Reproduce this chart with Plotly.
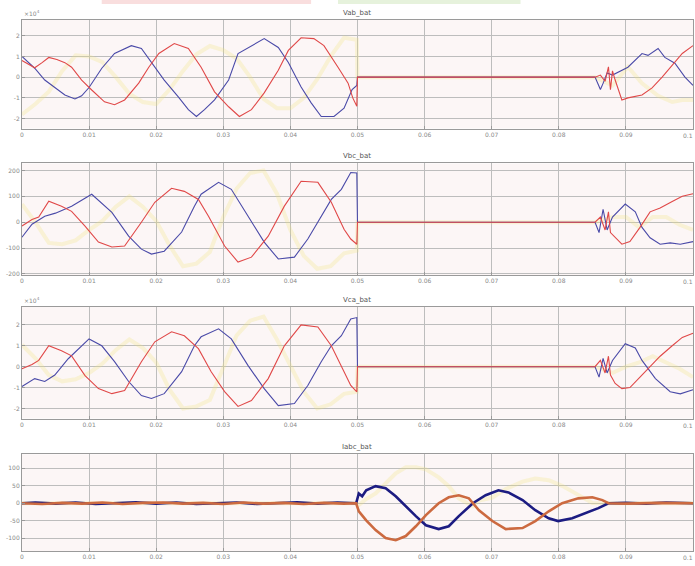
import plotly.graph_objects as go

W, H = 695, 566

# ---------------- data (time in ms) ----------------
x_ticks = [0, 0.01, 0.02, 0.03, 0.04, 0.05, 0.06, 0.07, 0.08, 0.09, 0.1]
x_tick_labels = ["0", "0.01", "0.02", "0.03", "0.04", "0.05", "0.06", "0.07", "0.08", "0.09", "0.1"]

titles = ["Vab_bat", "Vbc_bat", "Vca_bat", "Iabc_bat"]

# Panel 1 (x10^4)
p1_blue_t = [0, 1.9, 3.4, 4.9, 6.4, 7.9, 8.9, 10.0, 11.9, 13.8, 16.3, 17.8, 19.3, 21.2, 23.3, 24.8, 26.0, 27.2, 28.7, 30.8, 32.2, 33.7, 36.1, 38.2, 39.7, 41.6, 43.1, 44.6, 46.5, 48.0, 49.2, 49.9, 50.0,
             85.4, 86.2, 86.6, 87.2, 88.0, 88.9, 90.3, 92.4, 93.3, 94.8, 95.8, 97.3, 98.8, 100]
p1_blue_v = [1.0, 0.43, -0.14, -0.5, -0.86, -1.05, -0.9, -0.5, 0.43, 1.14, 1.52, 1.38, 0.71, -0.14, -0.95, -1.57, -1.9, -1.57, -1.1, -0.14, 1.14, 1.43, 1.86, 1.43, 0.71, -0.48, -1.24, -1.9, -1.9, -1.5, -0.6, -0.4, 0,
             0, -0.6, -0.3, 0.2, 0.1, 0.24, 0.48, 1.14, 1.05, 1.38, 0.95, 0.67, 0.0, -0.4]
p1_red_t = [0, 1.0, 1.9, 3.0, 4.0, 5.2, 6.4, 7.4, 8.9, 10.4, 12.3, 13.8, 15.3, 17.4, 18.9, 20.4, 22.7, 24.8, 26.7, 28.7, 30.8, 32.4, 34.2, 36.1, 38.2, 39.7, 41.6, 43.5, 45.0, 47.1, 48.6, 49.3, 49.9, 50.0,
            85.4, 86.2, 86.9, 87.4, 87.7, 88.0, 88.4, 89.4, 90.3, 92.4, 93.9, 95.4, 96.9, 98.4, 100]
p1_red_v = [0.8, 0.6, 0.45, 0.7, 0.95, 0.85, 0.7, 0.48, -0.14, -0.62, -1.19, -1.33, -1.1, -0.29, 0.48, 1.14, 1.62, 1.38, 0.48, -0.71, -1.43, -1.9, -1.57, -0.76, 0.33, 1.29, 1.9, 1.86, 1.52, 0.48, -0.29, -1.0, -1.4, 0,
            0, 0.1, -0.2, 0.5, -0.6, 0.3, -0.14, -1.1, -1.0, -0.86, -0.52, 0.0, 0.57, 1.14, 1.52]
p1_yel_t = [0, 2, 4, 6, 8, 10, 12, 14, 16, 18, 20, 22, 24, 26, 28, 30, 32, 34, 36, 38, 40, 42, 44, 46, 48, 49.9, 50,
            85.4, 88, 90.3, 92.4, 94.8, 96.9, 98.4, 100]
p1_yel_v = [-1.8, -1.3, -0.7, 0.3, 1.05, 1.0, 0.72, 0.0, -0.8, -1.2, -1.3, -0.6, 0.3, 1.1, 1.5, 1.3, 0.9, 0.0, -1.05, -1.5, -1.5, -1.0, -0.1, 1.0, 1.9, 1.8, 0,
            0, -0.4, 0.5, -0.3, -0.9, -1.2, -1.1, -1.1]

# Panel 2
p2_blue_t = [0, 1.5, 3.4, 5.0, 7.4, 10.4, 13.4, 15.9, 17.8, 19.3, 21.2, 23.8, 25.7, 26.7, 29.3, 31.2, 33.7, 36.1, 38.2, 40.6, 42.6, 44.6, 46.1, 47.6, 49.0, 49.9, 50.0,
             85.4, 86.0, 86.6, 87.2, 88.0, 89.9, 91.4, 92.4, 93.6, 95.1, 96.6, 98.1, 100]
p2_blue_v = [-58, -8, 23, 35, 62, 108, 38, -54, -104, -123, -112, -38, 62, 108, 154, 127, 23, -77, -142, -135, -65, 23, 88, 127, 192, 190, 0,
             0, -40, 50, -30, 20, 70, 40, -20, -60, -85, -80, -85, -75]
p2_red_t = [0, 1.5, 2.5, 4.0, 5.9, 7.4, 9.4, 11.4, 13.4, 15.3, 17.8, 19.8, 22.3, 24.2, 26.3, 27.8, 30.2, 32.2, 34.2, 36.7, 39.1, 41.6, 44.1, 46.1, 48.0, 49.0, 49.9, 50.0,
            85.4, 86.2, 86.9, 87.4, 87.7, 88.4, 89.4, 90.6, 92.1, 93.6, 95.1, 96.9, 98.4, 100]
p2_red_v = [-15, 10, 20, 81, 62, 42, -15, -77, -96, -92, 0, 77, 131, 119, 88, 23, -92, -154, -135, -54, 62, 158, 154, 77, -27, -65, -85, 0,
            0, 20, -30, 40, -40, -60, -85, -75, -20, 40, 55, 80, 100, 110]
p2_yel_t = [0, 2, 4, 6, 8, 10, 12, 14, 16, 18, 20, 22, 24, 26, 28, 30, 32, 34, 36, 38, 40, 42, 44, 46, 48, 49.9, 50,
            85.4, 88, 90, 92, 94, 96, 98, 100]
p2_yel_v = [70, 0, -80, -85, -70, -30, 5, 60, 100, 60, 5, -90, -170, -160, -115, 20, 130, 190, 200, 110, -30, -130, -180, -170, -120, -110, 0,
            0, 20, 20, -20, 20, 20, -10, -30]

# Panel 3 (x10^4)
p3_blue_t = [0, 1.9, 3.4, 4.9, 6.9, 10.0, 11.9, 13.8, 15.9, 17.8, 19.3, 21.2, 23.8, 25.7, 26.7, 29.3, 31.2, 33.7, 36.1, 38.2, 40.6, 42.6, 44.6, 46.1, 47.6, 49.0, 49.9, 50.0,
             85.4, 86.0, 86.6, 87.2, 88.0, 89.9, 91.4, 92.4, 94.4, 96.6, 98.1, 100]
p3_blue_v = [-0.95, -0.57, -0.71, -0.4, 0.38, 1.33, 1.0, 0.24, -0.71, -1.38, -1.52, -1.29, -0.24, 1.0, 1.43, 1.81, 1.33, 0.05, -1.05, -1.86, -1.76, -0.9, 0.24, 1.0, 1.48, 2.28, 2.35, 0,
             0, -0.5, 0.4, -0.3, 0.3, 1.1, 0.9, 0.3, -0.57, -1.2, -1.3, -1.1]
p3_red_t = [0, 1.5, 2.5, 4.0, 5.9, 7.4, 9.4, 11.4, 13.4, 15.3, 17.8, 19.8, 22.3, 24.2, 26.3, 28.2, 30.2, 32.2, 34.2, 36.7, 39.1, 41.6, 44.1, 46.1, 48.0, 49.0, 49.9, 50.0,
            85.4, 86.2, 86.9, 87.4, 87.7, 88.4, 89.4, 90.6, 92.1, 93.6, 95.1, 96.9, 98.4, 100]
p3_red_v = [-0.1, 0.1, 0.3, 1.0, 0.76, 0.52, -0.43, -1.05, -1.29, -1.14, 0.24, 1.19, 1.67, 1.48, 0.86, -0.24, -1.19, -1.9, -1.62, -0.57, 1.0, 2.0, 1.9, 1.0, -0.24, -0.9, -1.2, 0,
            0, 0.3, -0.3, 0.5, -0.4, -0.8, -1.05, -1.0, -0.5, 0.0, 0.5, 1.0, 1.4, 1.6]
p3_yel_t = [0, 2, 4, 6, 8, 10, 12, 14, 16, 18, 20, 22, 24, 26, 28, 30, 32, 34, 36, 38, 40, 42, 44, 46, 48, 49.9, 50,
            85.4, 88, 90, 92, 94, 96, 98, 100]
p3_yel_v = [1.05, 0.4, -0.4, -0.7, -0.6, -0.3, 0.15, 0.8, 1.3, 0.9, 0.2, -1.1, -2.0, -1.9, -1.6, 0.0, 1.5, 2.2, 2.4, 1.3, 0, -1.2, -2.0, -1.8, -1.3, -1.2, 0,
            0, -0.3, 0, 0.2, 0.5, 0.2, -0.1, -0.5]

# Panel 4
p4_blue_t = [0, 2, 5, 8, 11, 14, 17, 20, 23, 26, 29, 32, 35, 38, 41, 44, 47, 49.8,
             50.2, 50.7, 51.3, 52.7, 54.2, 55.7, 57.2, 58.7, 60.2, 62.1, 63.6, 65.1, 67.2, 69.1, 71.0, 72.5, 74.6, 76.5, 78.5, 79.9, 82.0, 84.0, 85.9, 87.4, 90, 93, 96, 100]
p4_blue_v = [0, 2, -1, 2, -2, 1, 3, -1, 2, -2, 1, 2, -2, 1, 3, -1, 2, 0,
             28, 20, 37, 49, 43, 20, -9, -37, -63, -74, -66, -37, 0, 23, 37, 31, 9, -20, -43, -51, -43, -29, -14, 0, 1, -1, 2, 0]
p4_red_t = [0, 3, 6, 9, 12, 15, 18, 21, 24, 27, 30, 33, 36, 39, 42, 45, 48, 49.8,
            50.2, 51.3, 52.7, 54.2, 55.7, 57.2, 58.7, 60.2, 62.1, 63.6, 65.1, 66.6, 68.1, 70.1, 72.1, 74.6, 76.5, 78.5, 80.5, 82.9, 85.0, 86.5, 87.4, 90, 95, 100]
p4_red_v = [0, -2, 1, -1, 2, -2, 1, 2, -1, 1, -2, 2, -1, 1, -2, 1, -1, 0,
            -23, -49, -77, -100, -106, -94, -66, -34, 0, 17, 23, 14, -20, -51, -74, -71, -51, -23, 0, 14, 17, 9, 0, -1, 1, 0]
p4_yel_t = [0, 49.8, 50.2, 51.3, 52.7, 54.2, 55.7, 57.2, 58.7, 60.2, 62.1, 63.6, 65.1, 67.2, 68.1, 70.1, 72.1, 74.6, 76.5, 78.5, 80.5, 82.9, 85.0, 87.4, 100]
p4_yel_v = [0, 0, -5, 12, 28, 57, 86, 103, 103, 97, 74, 49, 14, -9, 8, 16, 41, 62, 71, 66, 50, 24, 1, 0, 0]

# y ticks
p1_yticks = [-2, -1, 0, 1, 2]
p2_yticks = [-200, -100, 0, 100, 200]
p3_yticks = [-2, -1, 0, 1, 2]
p4_yticks = [-100, -50, 0, 50, 100]

# ---------------- styling ----------------
RED = "#e04848"
BLUE = "#4a4aa8"
YEL = "rgba(240,228,120,0.26)"
RED4 = "#cc6a40"
BLUE4 = "#1c1c82"

panels = [
    dict(bt=p1_blue_t, bv=p1_blue_v, rt=p1_red_t, rv=p1_red_v, yt=p1_yel_t, yv=p1_yel_v,
         ticks=p1_yticks, rng=[-2.48, 2.76], px=(20, 129), lw=1.1, exp=True),
    dict(bt=p2_blue_t, bv=p2_blue_v, rt=p2_red_t, rv=p2_red_v, yt=p2_yel_t, yv=p2_yel_v,
         ticks=p2_yticks, rng=[-204, 227], px=(164, 276), lw=1.1, exp=False),
    dict(bt=p3_blue_t, bv=p3_blue_v, rt=p3_red_t, rv=p3_red_v, yt=p3_yel_t, yv=p3_yel_v,
         ticks=p3_yticks, rng=[-2.48, 2.86], px=(308, 420), lw=1.1, exp=True),
    dict(bt=p4_blue_t, bv=p4_blue_v, rt=p4_red_t, rv=p4_red_v, yt=p4_yel_t, yv=p4_yel_v,
         ticks=p4_yticks, rng=[-137, 140], px=(456, 553), lw=2.6, exp=False),
]

fig = go.Figure()
layout = dict(
    width=W, height=H, margin=dict(l=0, r=0, t=0, b=0),
    paper_bgcolor="white", plot_bgcolor="#fcf6f6", showlegend=False,
    font=dict(family="DejaVu Sans", size=6, color="#777777"),
)
annotations = []
xl, xr = 20 / W, 693 / W

for i, p in enumerate(panels):
    n = i + 1
    xa = "x" if n == 1 else f"x{n}"
    ya = "y" if n == 1 else f"y{n}"
    to_s = lambda arr: [v / 1000 for v in arr]
    fig.add_trace(go.Scatter(x=to_s(p["yt"]), y=p["yv"], mode="lines", xaxis=xa, yaxis=ya,
                             line=dict(color=YEL, width=4), hoverinfo="skip"))
    fig.add_trace(go.Scatter(x=to_s(p["bt"]), y=p["bv"], mode="lines", xaxis=xa, yaxis=ya,
                             line=dict(color=BLUE4 if n == 4 else BLUE, width=p["lw"])))
    fig.add_trace(go.Scatter(x=to_s(p["rt"]), y=p["rv"], mode="lines", xaxis=xa, yaxis=ya,
                             line=dict(color=RED4 if n == 4 else RED, width=p["lw"])))
    top, bot = p["px"]
    dom = [1 - bot / H, 1 - top / H]
    kx = "xaxis" if n == 1 else f"xaxis{n}"
    ky = "yaxis" if n == 1 else f"yaxis{n}"
    layout[kx] = dict(domain=[xl, xr], anchor=ya, range=[0, 0.1], tickvals=x_ticks[:-1], ticktext=x_tick_labels[:-1],
                      showgrid=True, gridcolor="#bdbdbd", gridwidth=1, showline=True, linecolor="#9a9a9a",
                      mirror=True, ticks="inside", ticklen=3, tickcolor="#9a9a9a", zeroline=False,
                      tickfont=dict(size=6, color="#888888"))
    layout[ky] = dict(domain=dom, anchor=xa, range=p["rng"], tickvals=p["ticks"],
                      ticktext=[str(v) for v in p["ticks"]],
                      showgrid=True, gridcolor="#bdbdbd", gridwidth=1, showline=True, linecolor="#9a9a9a",
                      mirror=True, ticks="inside", ticklen=3, tickcolor="#9a9a9a", zeroline=False,
                      tickfont=dict(size=6, color="#888888"))
    # last x tick label (at the right border), right-aligned so it stays inside the page
    annotations.append(dict(text=x_tick_labels[-1], x=1, y=dom[0], xref="paper", yref="paper",
                            xanchor="right", yanchor="top", yshift=-1, showarrow=False,
                            font=dict(size=6, color="#888888")))
    annotations.append(dict(text=titles[i], x=0.5 * (xl + xr), y=dom[1], xref="paper", yref="paper",
                            xanchor="center", yanchor="bottom", yshift=1, showarrow=False,
                            font=dict(size=7, color="#555555")))
    if p["exp"]:
        annotations.append(dict(text="×10<sup>4</sup>", x=xl, y=dom[1], xref="paper", yref="paper",
                                xanchor="left", yanchor="bottom", yshift=1, showarrow=False,
                                font=dict(size=6, color="#888888")))

layout["annotations"] = annotations
layout["shapes"] = [
    dict(type="rect", xref="paper", yref="paper", x0=100 / W, x1=310 / W, y0=1 - 4 / H, y1=1,
         fillcolor="#f9dede", line=dict(width=0), layer="below"),
    dict(type="rect", xref="paper", yref="paper", x0=337 / W, x1=520 / W, y0=1 - 4 / H, y1=1,
         fillcolor="#e6f2dc", line=dict(width=0), layer="below"),
]
fig.update_layout(**layout)
fig.write_html("out.html")
